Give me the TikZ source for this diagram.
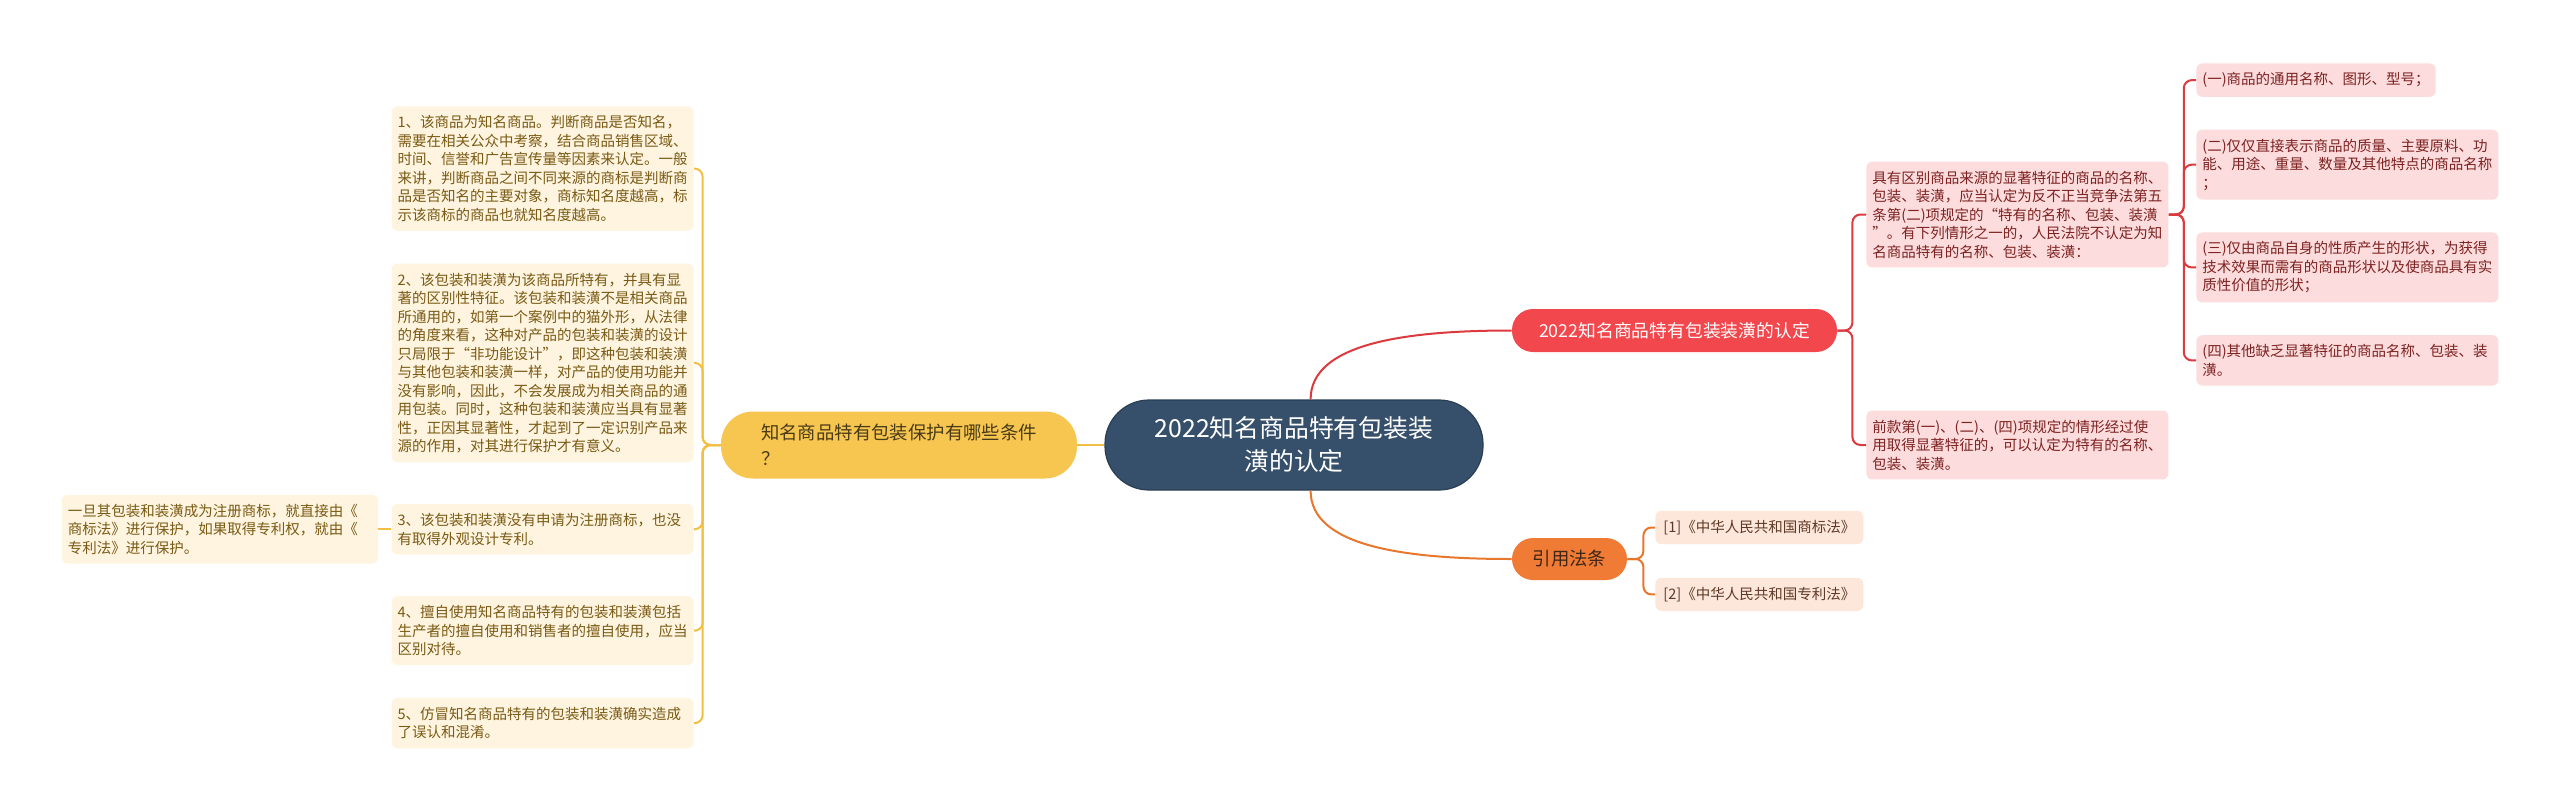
\documentclass[tikz,border=0pt]{standalone}
\usepackage{fontspec}
\setmainfont{Noto Sans CJK SC}
\usepackage{tikz}
\usetikzlibrary{positioning}
\usepackage{xcolor}
\definecolor{rootblue}{HTML}{36506B}
\definecolor{rootedge}{HTML}{2A3E54}
\definecolor{askyellow}{HTML}{F7C650}
\definecolor{asktext}{HTML}{4A3B17}
\definecolor{yfill}{HTML}{FEF4DF}
\definecolor{ytext}{HTML}{7A5A14}
\definecolor{yedge}{HTML}{F2BF45}
\definecolor{defred}{HTML}{F2474C}
\definecolor{rfill}{HTML}{FCDCDC}
\definecolor{rtext}{HTML}{7E2222}
\definecolor{redge}{HTML}{DC3A3E}
\definecolor{citeorange}{HTML}{F07B35}
\definecolor{citetext}{HTML}{3E2618}
\definecolor{ofill}{HTML}{FDE6DA}
\definecolor{otext}{HTML}{5E3A26}
\definecolor{oedge}{HTML}{E8772E}

\begin{document}
\begin{tikzpicture}[x=0.5pt, y=-0.5pt,
  rootbox/.style={draw=rootedge, fill=rootblue, rounded corners=22pt, minimum width=189pt, minimum height=45pt, align=center, text=white, font=\fontsize{12.4}{16.5}\selectfont, line width=0.6pt},
  askbox/.style={fill=askyellow, rounded corners=16pt, minimum width=178pt, minimum height=33.5pt, inner xsep=17pt, align=left, text=asktext, font=\fontsize{9.2}{13}\selectfont},
  defbox/.style={fill=defred, rounded corners=10.5pt, minimum width=162.5pt, minimum height=21.5pt, text=white, font=\fontsize{8.9}{11}\selectfont},
  citebox/.style={fill=citeorange, rounded corners=10.5pt, minimum width=57.5pt, minimum height=21pt, text=citetext, font=\fontsize{9.2}{11}\selectfont},
  leaf/.style={rounded corners=3pt, inner xsep=3pt, inner ysep=4.6pt, align=left, font=\fontsize{7.25}{9.25}\selectfont},
  yleaf/.style={leaf, fill=yfill, text=ytext, text width=145pt},
  rleaf/.style={leaf, fill=rfill, text=rtext},
  oleaf/.style={leaf, fill=ofill, text=otext, inner xsep=4pt},
  yline/.style={draw=yedge, line width=1pt},
  rline/.style={draw=redge, line width=1pt},
  oline/.style={draw=oedge, line width=1pt}
]
\fill[white] (0,0) rectangle (2560,809);
\useasboundingbox (0,0) rectangle (2560,809);

% centre and first level
\node[rootbox] (root) at (1294,445) {2022知名商品特有包装装\\潢的认定};
\node[askbox, left=13.5pt of root] (ask) {知名商品特有包装保护有哪些条件\\？};
\node[defbox] (def) at (1674.5,330.5) {2022知名商品特有包装装潢的认定};
\node[citebox] (cite) at (1569.5,559) {引用法条};

% conditions (left)
\node[yleaf, anchor=north east] (cond1) at (694,106) {1、该商品为知名商品。判断商品是否知名，\\需要在相关公众中考察，结合商品销售区域、\\时间、信誉和广告宣传量等因素来认定。一般\\来讲，判断商品之间不同来源的商标是判断商\\品是否知名的主要对象，商标知名度越高，标\\示该商标的商品也就知名度越高。};
\node[yleaf, below=16pt of cond1] (cond2) {2、该包装和装潢为该商品所特有，并具有显\\著的区别性特征。该包装和装潢不是相关商品\\所通用的，如第一个案例中的猫外形，从法律\\的角度来看，这种对产品的包装和装潢的设计\\只局限于“非功能设计”，即这种包装和装潢\\与其他包装和装潢一样，对产品的使用功能并\\没有影响，因此，不会发展成为相关商品的通\\用包装。同时，这种包装和装潢应当具有显著\\性，正因其显著性，才起到了一定识别产品来\\源的作用，对其进行保护才有意义。};
\node[yleaf, below=20.5pt of cond2] (cond3) {3、该包装和装潢没有申请为注册商标，也没\\有取得外观设计专利。};
\node[yleaf, below=20.5pt of cond3] (cond4) {4、擅自使用知名商品特有的包装和装潢包括\\生产者的擅自使用和销售者的擅自使用，应当\\区别对待。};
\node[yleaf, below=16pt of cond4] (cond5) {5、仿冒知名商品特有的包装和装潢确实造成\\了误认和混淆。};
\node[yleaf, text width=152pt, left=6.5pt of cond3] (cond3a) {一旦其包装和装潢成为注册商标，就直接由《\\商标法》进行保护，如果取得专利权，就由《\\专利法》进行保护。};

% rules (right)
\node[rleaf, text width=145pt, anchor=west] (rule) at (1866,214.5) {具有区别商品来源的显著特征的商品的名称、\\包装、装潢，应当认定为反不正当竞争法第五\\条第(二)项规定的“特有的名称、包装、装潢\\”。有下列情形之一的，人民法院不认定为知\\名商品特有的名称、包装、装潢：};
\node[rleaf, text width=145pt, anchor=west] (usage) at (1866,445) {前款第(一)、(二)、(四)项规定的情形经过使\\用取得显著特征的，可以认定为特有的名称、\\包装、装潢。};
\node[rleaf, anchor=north west] (item1) at (2196,63) {(一)商品的通用名称、图形、型号；};
\node[rleaf, text width=145pt, below=16pt of item1.south west, anchor=north west] (item2) {(二)仅仅直接表示商品的质量、主要原料、功\\能、用途、重量、数量及其他特点的商品名称\\；};
\node[rleaf, text width=145pt, below=16pt of item2] (item3) {(三)仅由商品自身的性质产生的形状，为获得\\技术效果而需有的商品形状以及使商品具有实\\质性价值的形状；};
\node[rleaf, text width=145pt, below=16pt of item3] (item4) {(四)其他缺乏显著特征的商品名称、包装、装\\潢。};

% laws
\node[oleaf, anchor=west] (law1) at (1655,527.5) {[1]《中华人民共和国商标法》};
\node[oleaf, below=16.5pt of law1] (law2) {[2]《中华人民共和国专利法》};

% connectors
\draw[yline] (root.west) -- (ask.east);
\foreach \c in {cond1,cond2,cond3,cond4,cond5}
  \draw[yline, rounded corners=4pt] (ask.west) -- ++(-18,0) |- (\c.east);
\draw[yline] (cond3.west) -- (cond3a.east);

\draw[rline] (root.70) .. controls +(0,-55) and +(-110,0) .. (def.west);
\foreach \c in {rule,usage}
  \draw[rline, rounded corners=4pt] (def.east) -- ++(15,0) |- (\c.west);
\foreach \c in {item1,item2,item3,item4}
  \draw[rline, rounded corners=4pt] (rule.east) -- ++(15,0) |- (\c.west);

\draw[oline] (root.-70) .. controls +(0,55) and +(-110,0) .. (cite.west);
\foreach \c in {law1,law2}
  \draw[oline, rounded corners=4pt] (cite.east) -- ++(16,0) |- (\c.west);

\end{tikzpicture}
\end{document}
